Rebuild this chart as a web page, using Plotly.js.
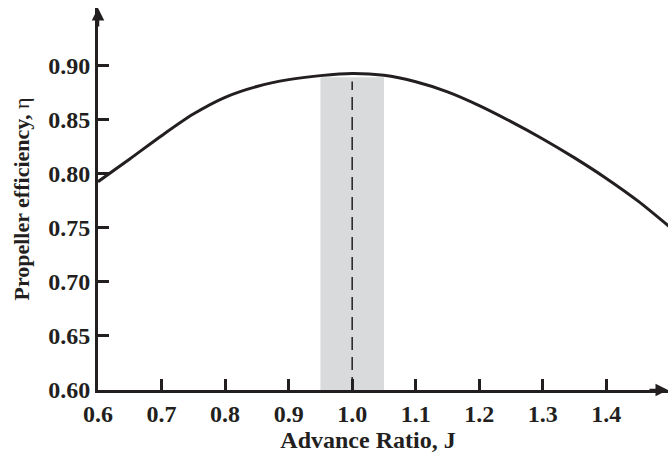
<!DOCTYPE html>
<html>
<head>
<meta charset="utf-8">
<script src="https://cdn.plot.ly/plotly-3.0.1.min.js"></script>
<style>html,body{margin:0;padding:0;background:#fff;}#chart{width:668px;height:454px;}</style>
</head>
<body>
<div id="chart"></div>
<script>
// Advance ratio J and propeller efficiency eta
const advanceRatio = [0.6, 0.65, 0.7, 0.75, 0.8, 0.85, 0.9, 0.95, 1.0, 1.05, 1.1, 1.15, 1.2, 1.25, 1.3, 1.35, 1.4, 1.45, 1.5];
const efficiency   = [0.7925, 0.8135, 0.835, 0.855, 0.8705, 0.8805, 0.8868, 0.8905, 0.8925, 0.8908, 0.8848, 0.8755, 0.8628, 0.848, 0.832, 0.8145, 0.7955, 0.7745, 0.7505];
const xTicks = [0.6, 0.7, 0.8, 0.9, 1.0, 1.1, 1.2, 1.3, 1.4];
const xTickText = ["0.6", "0.7", "0.8", "0.9", "1.0", "1.1", "1.2", "1.3", "1.4"];
const yTicks = [0.60, 0.65, 0.70, 0.75, 0.80, 0.85, 0.90];
const yTickText = ["0.60", "0.65", "0.70", "0.75", "0.80", "0.85", "0.90"];
const optimalBand = [0.95, 1.05];
const optimalJ = 1.0;
const bandTop = 0.889;

const ink = '#231f20';
const font = {family: '"Liberation Serif", "Times New Roman", serif', color: ink};
const xRange = [0.6, 1.497];
const yRange = [0.6, 0.953];
const nb = '\u00A0';

const trace = {
  x: advanceRatio, y: efficiency, type: 'scatter', mode: 'lines',
  line: {color: ink, width: 3, shape: 'spline', smoothing: 0.8},
  hoverinfo: 'skip', cliponaxis: true
};

const layout = {
  width: 668, height: 454,
  margin: {l: 98, r: 0, t: 8, b: 64},
  paper_bgcolor: '#fff', plot_bgcolor: '#fff',
  showlegend: false,
  font: font,
  xaxis: {
    range: xRange, showgrid: false, zeroline: false,
    showline: true, linecolor: ink, linewidth: 3,
    ticks: 'inside', ticklen: 11, tickwidth: 3, tickcolor: ink,
    tickvals: xTicks, ticktext: xTickText,
    tickfont: Object.assign({}, font, {size: 24, weight: 'bold'}),
    title: {text: '<b>Advance Ratio, J' + nb.repeat(5) + '</b>', font: Object.assign({}, font, {size: 24}), standoff: 0}
  },
  yaxis: {
    range: yRange, showgrid: false, zeroline: false,
    showline: true, linecolor: ink, linewidth: 3,
    ticks: 'inside', ticklen: 11, tickwidth: 3, tickcolor: ink,
    tickvals: yTicks, ticktext: yTickText,
    tickfont: Object.assign({}, font, {size: 24, weight: 'bold'}),
    title: {text: nb.repeat(4) + '<b>Propeller efficiency, </b>η', font: Object.assign({}, font, {size: 22}), standoff: 13}
  },
  shapes: [
    {type: 'rect', xref: 'x', yref: 'y', x0: optimalBand[0], x1: optimalBand[1], y0: yRange[0], y1: bandTop,
     fillcolor: '#d9dadc', line: {width: 0}, layer: 'below'},
    {type: 'line', xref: 'x', yref: 'y', x0: optimalJ, x1: optimalJ, y0: yRange[0], y1: bandTop - 0.004,
     line: {color: ink, width: 1.5, dash: '13px,7px'}, layer: 'below'}
  ],
  annotations: [
    {xref: 'x', yref: 'y', x: xRange[1], y: yRange[0], ax: -20, ay: 0, text: '', showarrow: true,
     arrowhead: 2, arrowsize: 1, arrowwidth: 2.5, arrowcolor: ink},
    {xref: 'x', yref: 'y', x: xRange[0], y: yRange[1], ax: 0, ay: 20, text: '', showarrow: true,
     arrowhead: 2, arrowsize: 1, arrowwidth: 2.5, arrowcolor: ink}
  ]
};

Plotly.newPlot('chart', [trace], layout, {staticPlot: true, displayModeBar: false});
</script>
</body>
</html>
